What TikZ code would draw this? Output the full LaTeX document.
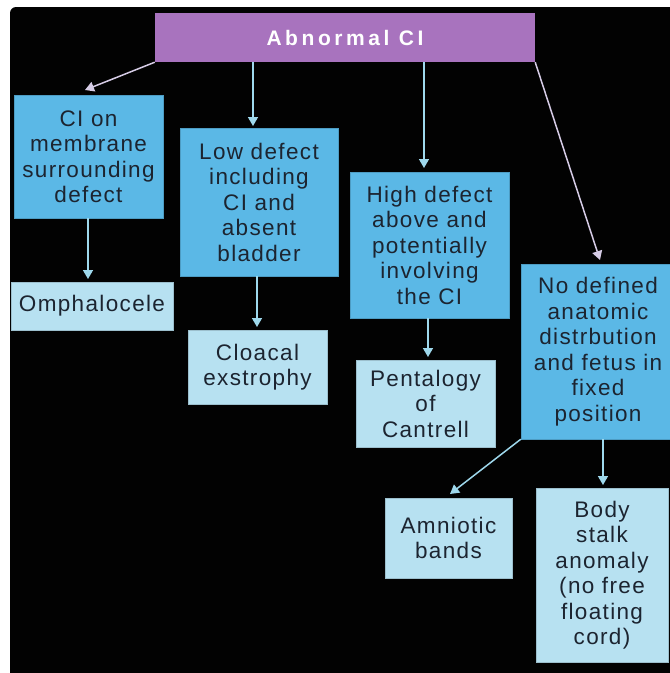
\documentclass[tikz,border=0pt]{standalone}
\usepackage{fontspec}
\setmainfont{Liberation Sans}
\usetikzlibrary{arrows.meta,calc}
\definecolor{bgblack}{HTML}{020202}
\definecolor{boxblue}{HTML}{5BB8E6}
\definecolor{boxlight}{HTML}{B7E1F1}
\definecolor{boxpurple}{HTML}{A873BE}
\definecolor{arrowblue}{HTML}{9ED8EC}
\definecolor{arrowlav}{HTML}{D6CCE6}
\definecolor{txt}{HTML}{1C2430}
\tikzset{
  box/.style={rectangle, inner sep=0pt, align=center, text=txt,
    font=\fontsize{22.5}{25.5}\selectfont\addfontfeature{LetterSpace=6}},
  bluebox/.style={box, fill=boxblue, draw=boxblue!85!black, line width=0.4pt},
  lightbox/.style={box, fill=boxlight, draw=boxlight!85!black, line width=0.4pt},
  topbox/.style={rectangle, inner sep=0pt, fill=boxpurple, text=white,
    font=\fontsize{21}{24}\selectfont\bfseries\addfontfeature{LetterSpace=17}},
  arr/.style={draw=arrowblue, line width=1.5pt,
    -{Triangle[width=10pt,length=9pt]}, color=arrowblue},
  arrlav/.style={arr, draw=arrowlav, color=arrowlav}
}
\begin{document}
\begin{tikzpicture}[x=1pt,y=-1pt]
\useasboundingbox (0,0) rectangle (670,673);
\fill[white] (0,0) rectangle (670,673);
\fill[bgblack, rounded corners=6pt] (10,7) rectangle (690,690);
\begin{scope}
\clip (10,7) rectangle (670,673);
\node[topbox, minimum width=380pt, minimum height=49pt] (top) at (345,37.5) {Abnormal CI};
\node[bluebox, minimum width=149pt, minimum height=123pt] (m1) at (88.5,156.5)
  {CI on\\membrane\\surrounding\\defect};
\node[lightbox, minimum width=162pt, minimum height=48pt] (o) at (92,306) {Omphalocele};
\node[bluebox, minimum width=158pt, minimum height=148pt] (m2) at (259,202)
  {Low defect\\including\\CI and\\absent\\bladder};
\node[lightbox, minimum width=139pt, minimum height=74pt] (c) at (257.5,367)
  {Cloacal\\exstrophy};
\node[bluebox, minimum width=159pt, minimum height=146pt] (m3) at (429.5,245)
  {High defect\\above and\\potentially\\involving\\the CI};
\node[lightbox, minimum width=139pt, minimum height=87pt] (p) at (425.5,403.5)
  {Pentalogy\\of\\Cantrell};
\node[bluebox, minimum width=154pt, minimum height=175pt] (m4) at (598,351.5)
  {No defined\\anatomic\\distrbution\\and fetus in\\fixed\\position};
\node[lightbox, minimum width=127pt, minimum height=80pt] (a) at (448.5,538)
  {Amniotic\\bands};
\node[lightbox, minimum width=132pt, minimum height=174pt] (b) at (602,575)
  {Body\\stalk\\anomaly\\(no free\\floating\\cord)};
% arrow end points just above the boxes
\coordinate (e1) at (85,90);
\coordinate (e2) at (253,126);
\coordinate (e3) at (424,168);
\coordinate (e4) at (600,260);
\coordinate (e5) at (88,279);
\coordinate (e6) at (257,327);
\coordinate (e7) at (428,357);
\coordinate (e8) at (450,494);
\coordinate (e9) at (603,485);
\draw[arrlav] (top.south west) -- (e1);
\draw[arr] (top.south -| e2) -- (e2);
\draw[arr] (top.south -| e3) -- (e3);
\draw[arrlav] (top.south east) -- (e4);
\draw[arr] (m1.south -| e5) -- (e5);
\draw[arr] (m2.south -| e6) -- (e6);
\draw[arr] (m3.south -| e7) -- (e7);
\draw[arr] (m4.south west) -- (e8);
\draw[arr] (m4.south -| e9) -- (e9);
\end{scope}
\end{tikzpicture}
\end{document}
